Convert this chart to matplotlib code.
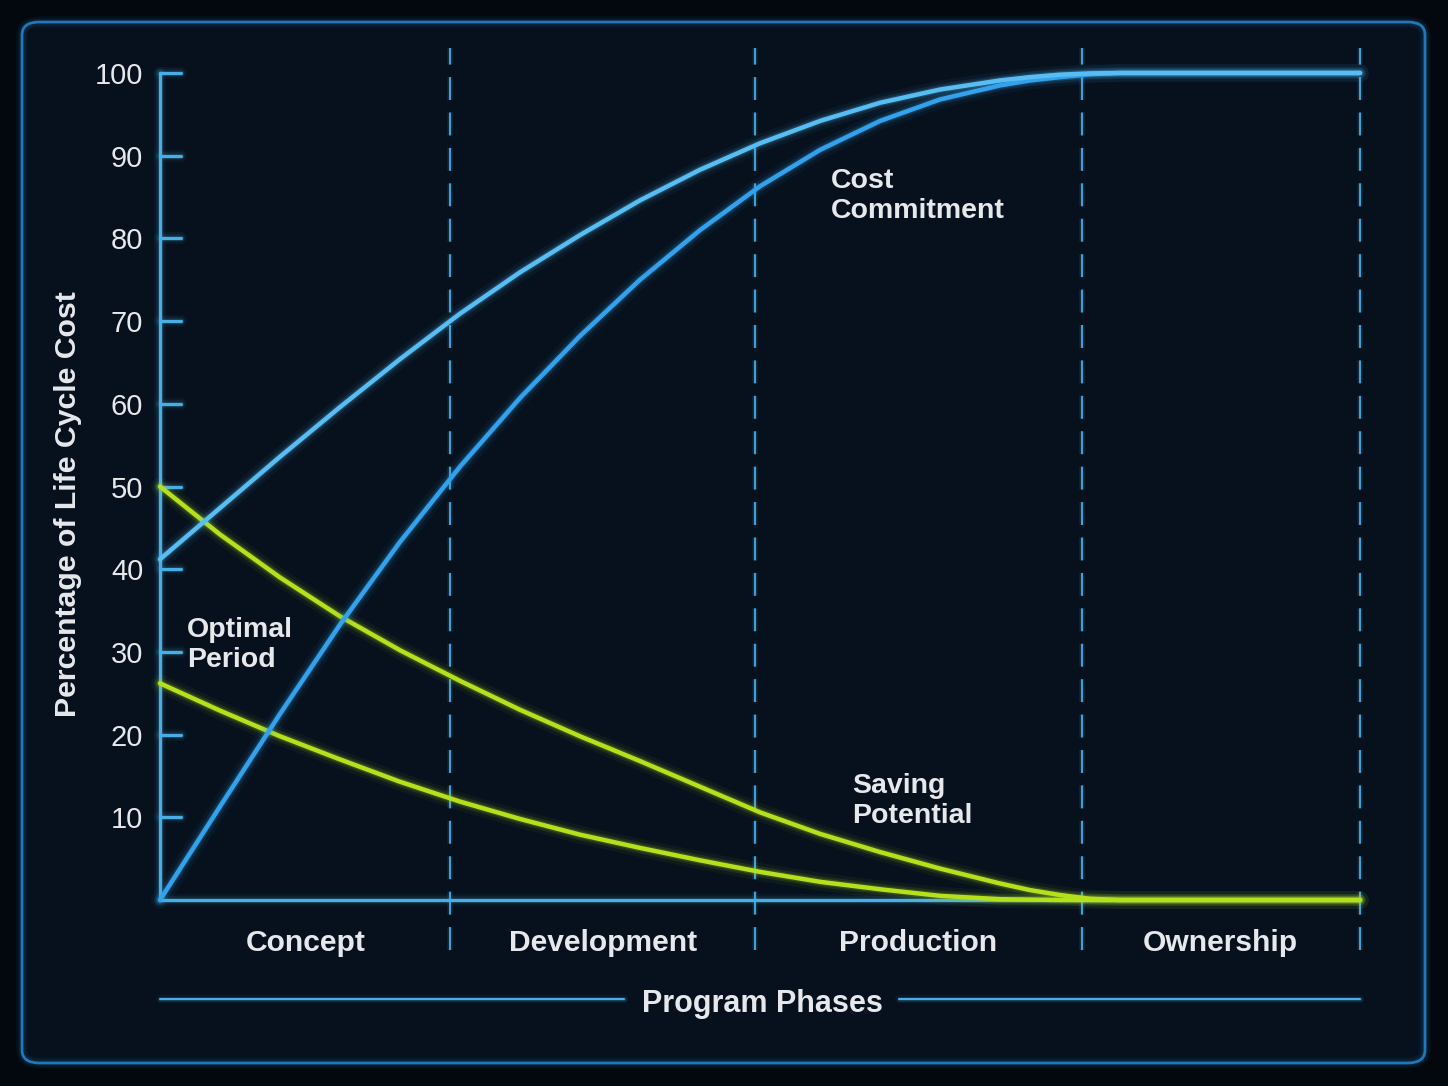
import matplotlib
matplotlib.use("Agg")
from matplotlib import pyplot as plt
from matplotlib.patches import FancyBboxPatch
import numpy as np

plt.rcParams['font.family'] = ['Liberation Sans', 'DejaVu Sans']

# timeline position (0-100) and curve values
t = [0, 5, 10, 15, 20, 25, 30, 35, 40, 45, 50, 55, 60, 65, 70, 72.5, 75, 77.5, 80, 85, 90, 95, 100]
commit_early = [41.2, 47.4, 53.6, 59.6, 65.4, 70.9, 75.9, 80.4, 84.6, 88.3, 91.5, 94.2, 96.4, 98.0, 99.1, 99.5, 99.8, 99.95, 100, 100, 100, 100, 100]
commit_late = [0, 11.3, 22.5, 33.3, 43.3, 52.4, 60.7, 68.2, 75.0, 81.0, 86.3, 90.7, 94.2, 96.8, 98.5, 99.1, 99.5, 99.85, 100, 100, 100, 100, 100]
saving_high = [50, 44.2, 39, 34.3, 30.2, 26.5, 23, 19.8, 16.8, 13.7, 10.6, 8.0, 5.8, 3.8, 2.0, 1.2, 0.6, 0.15, 0, 0, 0, 0, 0]
saving_low = [26.2, 22.9, 19.8, 17.0, 14.3, 11.9, 9.8, 7.9, 6.3, 4.8, 3.4, 2.2, 1.3, 0.5, 0.1, 0.05, 0, 0, 0, 0, 0, 0, 0]

phase_edges = [0, 24.2, 49.6, 76.8, 100]
phases = ["Concept", "Development", "Production", "Ownership"]
yticks = [10, 20, 30, 40, 50, 60, 70, 80, 90, 100]

bg = "#03080e"
panel = "#06111d"
blue = "#58bdf3"
blue2 = "#33a2ec"
green = "#b5e01c"
axcol = "#4aaee6"
txt = "#e6e8ec"

fig = plt.figure(figsize=(14.48, 10.86), dpi=100, facecolor=bg)

# rounded panel
box = ((22 / 1448, 1 - 1063 / 1086), (1425 - 22) / 1448, (1063 - 22) / 1086)
pan = FancyBboxPatch(*box, boxstyle="round,pad=0,rounding_size=0.012", transform=fig.transFigure,
                     facecolor=panel, edgecolor="#1f78b8", linewidth=2, zorder=-2)
fig.patches.append(pan)
for w, a in [(8, 0.08), (5, 0.12)]:
    glow = FancyBboxPatch(*box, boxstyle="round,pad=0,rounding_size=0.012", transform=fig.transFigure,
                          facecolor="none", edgecolor="#1f78b8", linewidth=w, alpha=a, zorder=-1)
    fig.patches.append(glow)

ax = fig.add_axes([160 / 1448, 1 - 900 / 1086, 1200 / 1448, 827 / 1086])
ax.set_facecolor("none")
ax.set_xlim(0, 100)
ax.set_ylim(0, 100)


def glow_line(x, y, c, lw=3, z=3):
    for w, a in [(lw * 4, 0.05), (lw * 2.5, 0.1), (lw * 1.6, 0.18)]:
        ax.plot(x, y, color=c, lw=w, alpha=a, solid_capstyle="round", solid_joinstyle="round", zorder=z, clip_on=False)
    ax.plot(x, y, color=c, lw=lw, solid_capstyle="round", solid_joinstyle="round", zorder=z + 1, clip_on=False)


# dashed phase boundaries
for e in phase_edges[1:]:
    ax.plot([e, e], [-6, 103], color=axcol, lw=1.5, ls=(0, (11, 6)), alpha=0.9, zorder=2, clip_on=False)
    ax.plot([e, e], [-6, 103], color=axcol, lw=4, ls=(0, (11 * 1.5 / 4, 6 * 1.5 / 4)), alpha=0.12, zorder=2, clip_on=False)

# axes lines
glow_line([0, 0], [0, 100], axcol, lw=2.2, z=5)
glow_line([0, 100], [0, 0], axcol, lw=2.2, z=5)
for v in yticks:
    glow_line([0, 1.75], [v, v], axcol, lw=2.2, z=5)

glow_line(t, saving_low, green, lw=3.2, z=6)
glow_line(t, saving_high, green, lw=3.2, z=6)
glow_line(t, commit_late, blue2, lw=3.2, z=7)
glow_line(t, commit_early, blue, lw=3.2, z=7)

for s in ax.spines.values():
    s.set_visible(False)
ax.set_xticks([])
ax.set_yticks(yticks)
ax.tick_params(axis="y", length=0, pad=12, labelsize=21, labelcolor=txt)

ax.set_ylabel("Percentage of Life Cycle Cost", fontsize=21.8, fontweight="bold", color=txt)
ax.yaxis.set_label_coords(-0.065, 0.479)

for i, name in enumerate(phases):
    mid = (phase_edges[i] + phase_edges[i + 1]) / 2
    ax.text(mid, -5.2, name, ha="center", va="center", fontsize=21.6, fontweight="bold", color=txt)

ax.text(50.2, -12.6, "Program Phases", ha="center", va="center", fontsize=22, fontweight="bold", color=txt)
glow_line([0, 38.7], [-12, -12], axcol, lw=1.5, z=3)
glow_line([61.6, 100], [-12, -12], axcol, lw=1.5, z=3)

ax.text(55.9, 85.1, "Cost\nCommitment", ha="left", va="center", fontsize=20.5, fontweight="bold",
        color=txt, linespacing=1.2)
ax.text(57.7, 12.0, "Saving\nPotential", ha="left", va="center", fontsize=20.5, fontweight="bold",
        color=txt, linespacing=1.2)
ax.text(2.25, 30.8, "Optimal\nPeriod", ha="left", va="center", fontsize=20.5, fontweight="bold",
        color=txt, linespacing=1.2)

fig.savefig("out.png", dpi=100, facecolor=bg)
